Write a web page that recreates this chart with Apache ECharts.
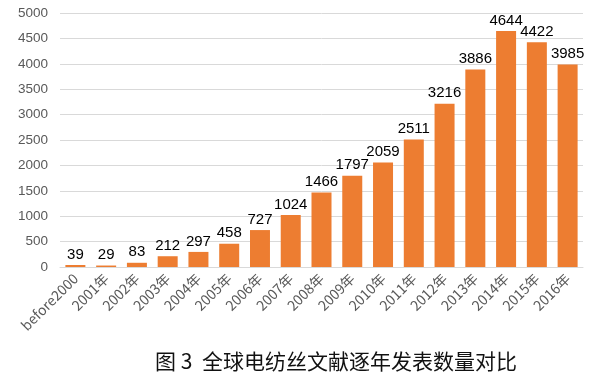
<!DOCTYPE html>
<html><head><meta charset="utf-8">
<script src="https://cdn.jsdelivr.net/npm/echarts@6/dist/echarts.min.js"></script>
<style>html,body{margin:0;padding:0;background:#fff}#c{width:590px;height:387px}</style>
</head><body><div id="c"></div>
<script>
const categories = ['before2000','2001年','2002年','2003年','2004年','2005年','2006年','2007年','2008年','2009年','2010年','2011年','2012年','2013年','2014年','2015年','2016年'];
const counts = [39,29,83,212,297,458,727,1024,1466,1797,2059,2511,3216,3886,4644,4422,3985];
const yTicks = {min:0, max:5000, interval:500};
const titleText = '图 3  全球电纺丝文献逐年发表数量对比';

const chart = echarts.init(document.getElementById('c'), null, {renderer:'canvas'});
chart.setOption({
  animation:false,
  title:{text:titleText, left:331, top:346, textAlign:'center',
    textStyle:{fontFamily:'"Noto Sans CJK SC", sans-serif', fontSize:21, fontWeight:'normal', color:'#111'}},
  grid:{left:60, right:7, top:13, height:254},
  xAxis:{type:'category', data:categories,
    axisLine:{lineStyle:{color:'#d9d9d9'}}, axisTick:{show:false},
    axisLabel:{rotate:45, interval:0, color:'#595959', fontSize:14, margin:9,
      fontFamily:'"Noto Sans CJK SC", "Liberation Sans", sans-serif'}},
  yAxis:{type:'value', min:yTicks.min, max:yTicks.max, interval:yTicks.interval,
    axisLine:{show:false}, axisTick:{show:false},
    splitLine:{lineStyle:{color:'#d9d9d9'}},
    axisLabel:{color:'#595959', fontSize:13.5, margin:12, formatter:v=>String(v),
      fontFamily:'"Liberation Sans", sans-serif'}},
  series:[{type:'bar', data:counts, barWidth:20,
    itemStyle:{color:'#ED7D31'},
    label:{show:true, position:'top', distance:3, color:'#000', fontSize:15,
      fontFamily:'"Liberation Sans", sans-serif'}}]
});
</script></body></html>
